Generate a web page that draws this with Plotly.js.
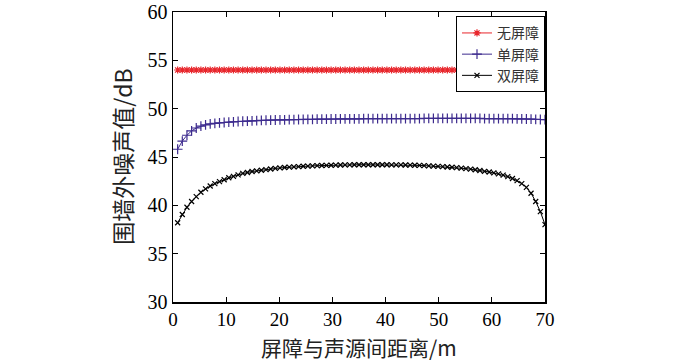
<!DOCTYPE html>
<html>
<head>
<meta charset="utf-8">
<script src="https://cdn.plot.ly/plotly-3.0.1.min.js"></script>
<style>html,body{margin:0;padding:0;background:#fff;}#chart{width:700px;height:361px;}</style>
</head>
<body>
<div id="chart"></div>
<script>
// distance between barrier and source (m)
const distance = [0.875,1.75,2.625,3.5,4.375,5.25,6.125,7,7.875,8.75,9.625,10.5,11.375,12.25,13.125,14,14.875,15.75,16.625,17.5,18.375,19.25,20.125,21,21.875,22.75,23.625,24.5,25.375,26.25,27.125,28,28.875,29.75,30.625,31.5,32.375,33.25,34.125,35,35.875,36.75,37.625,38.5,39.375,40.25,41.125,42,42.875,43.75,44.625,45.5,46.375,47.25,48.125,49,49.875,50.75,51.625,52.5,53.375,54.25,55.125,56,56.875,57.75,58.625,59.5,60.375,61.25,62.125,63,63.875,64.75,65.625,66.5,67.375,68.25,69.125,70];

// no barrier
const noBarrier = [54,54,54,54,54,54,54,54,54,54,54,54,54,54,54,54,54,54,54,54,54,54,54,54,54,54,54,54,54,54,54,54,54,54,54,54,54,54,54,54,54,54,54,54,54,54,54,54,54,54,54,54,54,54,54,54,54,54,54,54,54,54,54,54,54,54,54,54,54,54,54,54,54,54,54,54,54,54,54,54];

// single barrier
const singleBarrier = [45.8,46.65,47.25,47.7,48.0,48.2,48.33,48.42,48.48,48.53,48.57,48.61,48.64,48.67,48.7,48.72,48.74,48.76,48.78,48.8,48.82,48.83,48.84,48.85,48.86,48.87,48.88,48.89,48.9,48.9,48.91,48.92,48.92,48.93,48.93,48.94,48.94,48.95,48.95,48.95,48.96,48.96,48.96,48.97,48.97,48.97,48.97,48.98,48.98,48.98,48.98,48.98,48.98,48.99,48.99,48.99,48.99,48.99,48.99,48.99,48.99,48.99,48.99,48.99,48.99,48.99,48.98,48.98,48.98,48.97,48.97,48.96,48.96,48.95,48.94,48.93,48.92,48.9,48.88,48.86];

// double barrier
const doubleBarrier = [38.2,39.05,39.8,40.4,40.9,41.35,41.7,42.0,42.25,42.45,42.65,42.85,43.0,43.15,43.3,43.4,43.5,43.57,43.63,43.7,43.76,43.82,43.87,43.91,43.95,43.98,44.01,44.04,44.06,44.08,44.1,44.12,44.13,44.15,44.16,44.17,44.18,44.19,44.2,44.2,44.2,44.2,44.2,44.2,44.2,44.2,44.19,44.19,44.18,44.17,44.16,44.15,44.13,44.11,44.08,44.06,44.03,44.0,43.97,43.94,43.9,43.85,43.8,43.74,43.68,43.6,43.52,43.45,43.35,43.25,43.12,42.97,42.78,42.55,42.25,41.85,41.25,40.4,39.35,38.0];

const seriesNames = ['无屏障','单屏障','双屏障'];
const xTicks = [0,10,20,30,40,50,60,70];
const yTicks = [30,35,40,45,50,55,60];
const xTitle = '屏障与声源间距离/m';
const yTitle = '围墙外噪声值/dB';

const cjk = 'Noto Sans CJK SC';
const serif = 'Liberation Serif, Times New Roman, serif';

const traces = [
  {x: distance, y: noBarrier, name: seriesNames[0], mode: 'lines+markers',
   line: {color: '#e8262c', width: 1},
   marker: {symbol: 'asterisk-open', size: 6, color: '#e8262c', line: {color: '#e8262c', width: 1.2}}},
  {x: distance, y: singleBarrier, name: seriesNames[1], mode: 'lines+markers',
   line: {color: '#3d2b8e', width: 1},
   marker: {symbol: 'cross-thin-open', size: 7, color: '#3d2b8e', line: {color: '#3d2b8e', width: 1.2}}},
  {x: distance, y: doubleBarrier, name: seriesNames[2], mode: 'lines+markers',
   line: {color: '#000000', width: 1},
   marker: {symbol: 'x-thin-open', size: 5, color: '#000000', line: {color: '#000000', width: 1.2}}}
];

const layout = {
  width: 700, height: 361,
  paper_bgcolor: '#fff', plot_bgcolor: '#fff',
  margin: {l: 173, r: 155, t: 12, b: 59, pad: 0},
  showlegend: true,
  legend: {
    x: 1, xanchor: 'right', y: 0.985, yanchor: 'top',
    bgcolor: '#fff', bordercolor: '#000', borderwidth: 1,
    font: {family: cjk, size: 14, color: '#333'},
    tracegroupgap: 0, itemwidth: 30
  },
  xaxis: {
    range: [0, 70], tickvals: xTicks, ticktext: xTicks.map(String),
    ticks: 'inside', ticklen: 5, tickwidth: 1, tickcolor: '#000',
    showline: true, linecolor: '#000', linewidth: 1.5, mirror: 'ticks',
    showgrid: false, zeroline: false,
    tickfont: {family: serif, size: 19, color: '#000'}
  },
  yaxis: {
    range: [30, 60], tickvals: yTicks, ticktext: yTicks.map(String),
    ticks: 'inside', ticklen: 5, tickwidth: 1, tickcolor: '#000',
    showline: true, linecolor: '#000', linewidth: 1.5, mirror: 'ticks',
    showgrid: false, zeroline: false,
    tickfont: {family: serif, size: 20, color: '#000'}
  },
  annotations: [
    {text: xTitle, xref: 'paper', yref: 'paper', x: 0.5, y: -0.155,
     xanchor: 'center', yanchor: 'middle', showarrow: false,
     font: {family: cjk, size: 21, color: '#222'}},
    {text: yTitle, xref: 'paper', yref: 'paper', x: -0.138, y: 0.5,
     xanchor: 'center', yanchor: 'middle', textangle: -90, showarrow: false,
     font: {family: cjk, size: 23, color: '#222'}}
  ]
};

Plotly.newPlot('chart', traces, layout, {staticPlot: true, displayModeBar: false});
</script>
</body>
</html>
